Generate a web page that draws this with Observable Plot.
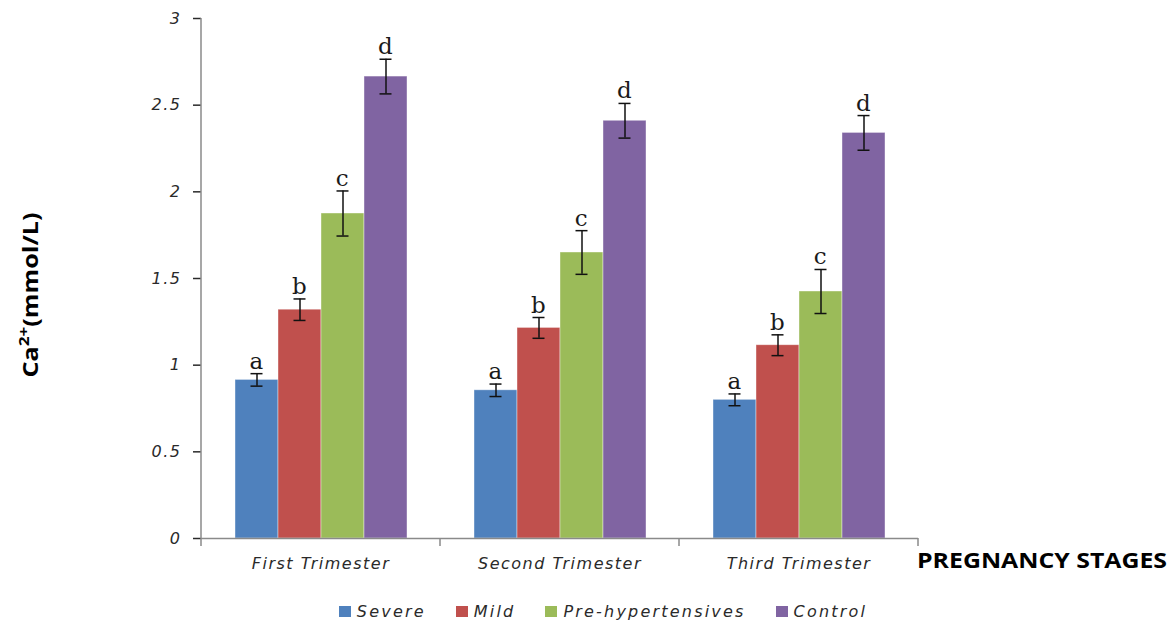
<!DOCTYPE html>
<html><head><meta charset="utf-8">
<script src="https://cdn.jsdelivr.net/npm/d3@7"></script>
<script src="https://cdn.jsdelivr.net/npm/@observablehq/plot@0.6"></script>
<style>
body{margin:0;background:#fff;}
#chart{width:1176px;}
.lg-swatches-wrap{justify-content:center !important;min-height:26px !important;padding-left:60px;margin-top:8px;}
.lg-swatch{margin-right:30px !important;letter-spacing:2.2px;}
.lg-swatch svg{margin-right:6px !important;}
</style></head><body><div id="chart"></div>
<script>
const stages = ["First Trimester", "Second Trimester", "Third Trimester"];
const groups = ["Severe", "Mild", "Pre-hypertensives", "Control"];
const colors = ["#4F81BD", "#C0504D", "#9BBB59", "#8064A2"];
const severe = [0.915, 0.855, 0.80];
const mild = [1.32, 1.215, 1.115];
const preHyp = [1.875, 1.65, 1.425];
const control = [2.665, 2.41, 2.34];
const severeErr = [0.036, 0.036, 0.034];
const mildErr = [0.062, 0.06, 0.06];
const preHypErr = [0.13, 0.126, 0.127];
const controlErr = [0.1, 0.1, 0.1];
const letters = ["a", "b", "c", "d"];
const yTicks = [0, 0.5, 1, 1.5, 2, 2.5, 3];
const xTitle = "PREGNANCY STAGES";
const yLabelMain = "Ca";
const yLabelSup = "2+";
const yLabelRest = "(mmol/L)";

const values = [severe, mild, preHyp, control];
const errs = [severeErr, mildErr, preHypErr, controlErr];
const rows = [];
stages.forEach((s, i) => groups.forEach((g, j) => rows.push({
  stage: s, group: g, value: values[j][i], err: errs[j][i], letter: letters[j]
})));

const W = 1176, H = 590;
const plot = Plot.plot({
  width: W, height: H,
  marginTop: 18, marginLeft: 201, marginRight: 258, marginBottom: 52,
  facet: {data: rows, x: "stage"},
  fx: {domain: stages, padding: 0, label: null, tickSize: 0, tickPadding: 19, axis: "bottom"},
  x: {domain: groups, paddingInner: 0, paddingOuter: 0.757, axis: null},
  y: {domain: [0, 3], ticks: yTicks, tickSize: 8, tickPadding: 12, tickFormat: d => String(d), label: null},
  color: {domain: groups, range: colors},
  style: {fontFamily: "DejaVu Sans", fontSize: "16px", fontStyle: "italic", color: "#2a2a2a", letterSpacing: "1.5px", background: "#fff"},
  marks: [
    Plot.barY(rows, {x: "group", y: "value", fill: "group", stroke: "#fff", strokeOpacity: 0.5, strokeWidth: 0.8}),
    Plot.ruleY([0], {stroke: "#8a8a8a", strokeWidth: 1.5}),
    Plot.ruleX(rows, {x: "group", y1: d => d.value - d.err, y2: d => d.value + d.err, stroke: "#111", strokeWidth: 1.5}),
    Plot.tickY(rows, {x: "group", y: d => d.value - d.err, stroke: "#111", strokeWidth: 1.5, insetLeft: 15.5, insetRight: 15.5}),
    Plot.tickY(rows, {x: "group", y: d => d.value + d.err, stroke: "#111", strokeWidth: 1.5, insetLeft: 15.5, insetRight: 15.5}),
    Plot.text(rows, {x: "group", y: d => d.value + d.err, text: "letter", dy: -5, lineAnchor: "bottom",
      fontFamily: "DejaVu Serif", fontSize: 23, fontStyle: "normal", fill: "#1a1a1a"})
  ]
});

const svg = d3.select(plot);
svg.selectAll("g[aria-label='y-axis tick']").attr("stroke", "#8a8a8a").attr("stroke-width", 1.5);
const fx = plot.scale("fx"), y = plot.scale("y");
const xs = stages.map(s => fx.apply(s));
xs.push(xs[xs.length - 1] + fx.bandwidth);
const y0 = y.apply(0), yTop = y.apply(3);
// y axis line
svg.append("line").attr("x1", xs[0]).attr("x2", xs[0]).attr("y1", yTop).attr("y2", y0)
  .attr("stroke", "#8a8a8a").attr("stroke-width", 1.5);
// category boundary ticks
xs.forEach(x => svg.append("line").attr("x1", x).attr("x2", x).attr("y1", y0).attr("y2", y0 + 8)
  .attr("stroke", "#8a8a8a").attr("stroke-width", 1.5));
// x title
svg.append("text").attr("x", xs[xs.length - 1] - 1).attr("y", y0 + 30)
  .attr("text-anchor", "start")
  .attr("font-family", "Open Sans").attr("font-weight", "bold").attr("font-size", 22)
  .attr("font-style", "normal").attr("letter-spacing", 0).attr("fill", "#000")
  .attr("textLength", 250).attr("lengthAdjust", "spacingAndGlyphs")
  .text(xTitle);
// y label
const yl = svg.append("text").attr("transform", `translate(38,${(yTop + y0) / 2 + 17}) rotate(-90)`)
  .attr("text-anchor", "middle").attr("font-family", "Open Sans").attr("font-weight", "bold")
  .attr("font-size", 22).attr("font-style", "normal").attr("letter-spacing", 0).attr("fill", "#000")
  .attr("textLength", 165).attr("lengthAdjust", "spacingAndGlyphs");
yl.append("tspan").text(yLabelMain);
yl.append("tspan").attr("font-size", 15).attr("dy", -9).text(yLabelSup);
yl.append("tspan").attr("dy", 9).text(yLabelRest);

const legend = Plot.legend({
  color: {domain: groups, range: colors}, legend: "swatches",
  swatchWidth: 12, swatchHeight: 11, className: "lg",
  style: {fontFamily: "DejaVu Sans", fontSize: "16px", fontStyle: "italic", color: "#2a2a2a"}
});
const chart = document.getElementById("chart");
chart.appendChild(plot);
chart.appendChild(legend);
</script></body></html>
